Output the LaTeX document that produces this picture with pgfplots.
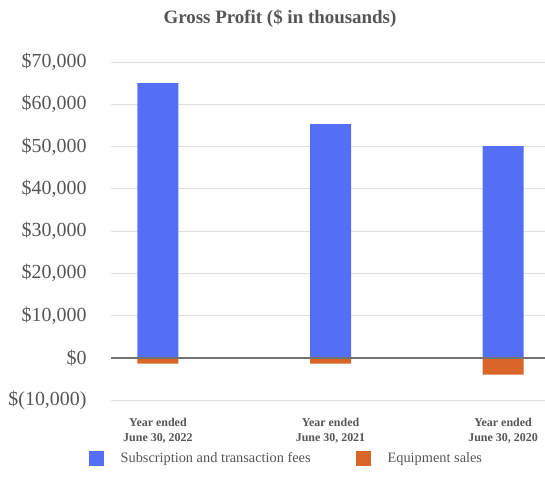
\documentclass[border=0pt]{standalone}
\usepackage{pgfplots}
\pgfplotsset{compat=1.18}
\usepackage{fontspec}
\setmainfont{Liberation Serif}
\definecolor{barblue}{HTML}{546EF5}
\definecolor{barorange}{HTML}{DA6528}
\definecolor{txtgray}{HTML}{555555}
\begin{document}
\begin{tikzpicture}
\path[use as bounding box] (0bp,0bp) rectangle (545bp,493bp);
\node[font=\fontsize{19}{21}\selectfont\bfseries, text=txtgray] at (280bp,474bp) {Gross Profit (\$ in thousands)};
\begin{axis}[
  at={(111bp,93bp)}, anchor=south west,
  scale only axis, width=434bp, height=338bp,
  xmin=-0.272, xmax=2.243, ymin=-10000, ymax=70000,
  axis line style={draw=none},
  scaled y ticks=false,
  ytick={-10000,0,10000,20000,30000,40000,50000,60000,70000},
  yticklabels={{\$(10,000)},{\$0},{\$10,000},{\$20,000},{\$30,000},{\$40,000},{\$50,000},{\$60,000},{\$70,000}},
  yticklabel style={font=\fontsize{20}{22}\selectfont, text=txtgray, xshift=-21bp},
  ymajorgrids, major grid style={color=black!12, line width=0.8bp},
  xtick={0,1,2},
  xticklabels={{Year ended\\June 30, 2022},{Year ended\\June 30, 2021},{Year ended\\June 30, 2020}},
  xticklabel style={align=center, font=\fontsize{12}{15}\selectfont\bfseries, text=txtgray, yshift=-15bp},
  major tick length=0pt,
  ybar, bar width=41bp, bar shift=0pt,
  legend columns=2,
  legend style={at={(0.404,-0.172)}, anchor=center, draw=none, fill=none,
    font=\fontsize{14.4}{16}\selectfont, text=txtgray,
    /tikz/every even column/.append style={column sep=43bp}},
  legend image code/.code={\fill[#1] (0bp,-7.5bp) rectangle (15bp,7.5bp);},
]
\addplot[fill=barblue, draw=none] coordinates {(0,65000) (1,55300) (2,50100)};
\addlegendentry{\hspace{15bp}Subscription and transaction fees}
\addplot[fill=barorange, draw=none] coordinates {(0,-1400) (1,-1400) (2,-4000)};
\addlegendentry{\hspace{15bp}Equipment sales}
\draw[black!55, line width=1.5bp] (axis cs:-0.272,0) -- (axis cs:2.243,0);
\end{axis}
\end{tikzpicture}
\end{document}
